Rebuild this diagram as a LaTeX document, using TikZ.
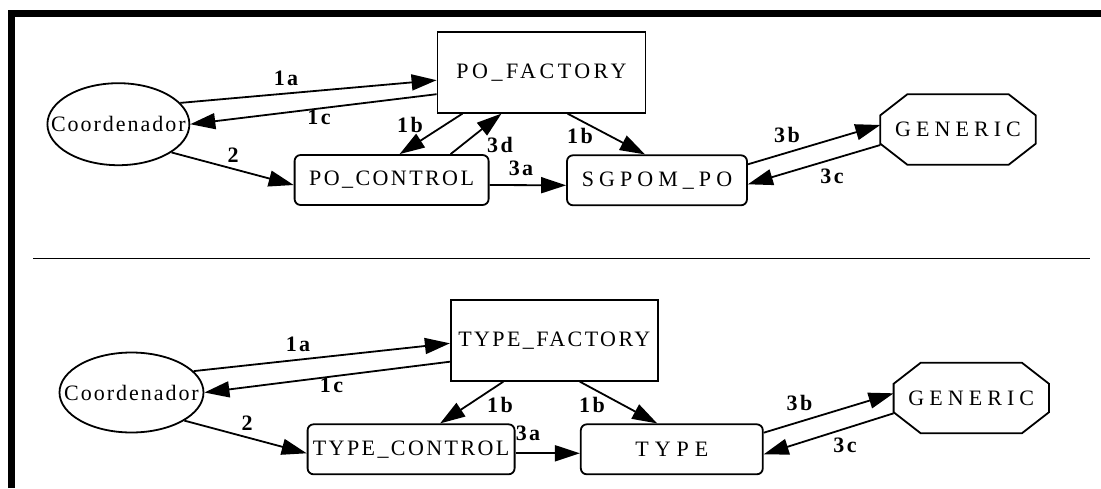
\documentclass[tikz,border=0pt]{standalone}
\usepackage{fontspec}
\setmainfont{Liberation Serif}
\usetikzlibrary{arrows.meta,calc,shapes.geometric}
\def\octagon(#1)(#2:#3){\draw[box] ($(#1.north west)+(#2,0)$) -- ($(#1.north east)+(-#2,0)$) -- ($(#1.north east)+(0,#3)$) -- ($(#1.south east)+(0,-#3)$) -- ($(#1.south east)+(-#2,0)$) -- ($(#1.south west)+(#2,0)$) -- ($(#1.south west)+(0,-#3)$) -- ($(#1.north west)+(0,#3)$) -- cycle;}
\tikzset{
	box/.style={line width=1.8pt},
	sp/.style={font=\fontsize{22}{26}\selectfont\addfontfeature{LetterSpace=#1}},
	sp/.default=11,
	ell/.style={draw, ellipse, box, inner sep=0pt, sp=9},
	sq/.style={draw, rectangle, box, inner sep=0pt},
	rnd/.style={draw, rectangle, rounded corners=6pt, box, inner sep=0pt, minimum height=50pt},
	oct/.style={rectangle, inner sep=0pt, minimum width=155pt, minimum height=70pt, sp=23},
	arr/.style={line width=1.8pt, -{Triangle[length=25pt,width=16pt]}},
	lbl/.style={font=\fontsize{22}{26}\selectfont\bfseries\addfontfeature{LetterSpace=11}, inner sep=0pt}
}

\begin{document}
\begin{tikzpicture}[x=1pt,y=-1pt]
			%%%%% START %%%%%
			\useasboundingbox (0,0) rectangle (1101,488);
			\draw[line width=7pt] (11,488) -- (11,13.5) -- (1101,13.5);
			\draw[line width=1.5pt] (33,258.5) -- (1090,258.5);
			
			%% upper graph
			\node[ell, minimum width=142, minimum height=82] (c1) at (118.4,124.2) {\makebox[0pt]{Coordenador}};
			\node[sq, sp=16, minimum width=208, minimum height=81] (f1) at (541.5,72.2) {PO\_FACTORY};
			\node[rnd, sp, minimum width=194] (p1) at (391.6,180) {PO\_CONTROL};
			\node[rnd, sp=23, minimum width=180] (s1) at (657,180.3) {SGPOM\_PO};
			\node[oct] (g1) at (958,129.5) {GENERIC};
			\octagon(g1)(27:21)
			
			\draw[arr] (c1.19) -- ([yshift=-8pt]f1.west);
			\draw[arr] ([yshift=-22pt]f1.west) -- (c1.east);
			\draw[arr] ([xshift=-79pt]f1.south) -- ([xshift=8pt]p1.north);
			\draw[arr] ([xshift=59pt]p1.north) -- ([xshift=-40pt]f1.south);
			\draw[arr] ([xshift=26pt]f1.south) -- ([xshift=-12pt]s1.north);
			\draw[arr] (c1.-28) -- ([yshift=-5pt]p1.west);
			\draw[arr] ([yshift=-5pt]p1.east) -- ([yshift=-5pt]s1.west);
			\draw[arr] ([yshift=16pt]s1.east) -- ([yshift=4.5pt]g1.west);
			\draw[arr] ([yshift=-15.5pt]g1.west) -- ([yshift=-4pt]s1.east);
			
			\node[lbl] (l1a) at (286,78) {1a};
			\node[lbl] (l1c) at (319,117) {1c};
			\node[lbl] (l1b) at (410,125) {1b};
			\node[lbl] (l3d) at (500,145) {3d};
			\node[lbl] (l2) at (233,155) {2};
			\node[lbl] (l3a) at (521,168) {3a};
			\node[lbl] (l1bb) at (580,136) {1b};
			\node[lbl] (l3b) at (787,135) {3b};
			\node[lbl] (l3c) at (832,176) {3c};
			
			%% lower graph
			\node[ell, minimum width=144, minimum height=80] (c2) at (131.5,392.5) {\makebox[0pt]{Coordenador}};
			\node[sq, sp, minimum width=207, minimum height=81] (f2) at (554.3,340.3) {TYPE\_FACTORY};
			\node[rnd, sp, minimum width=207] (t2) at (411.1,449.3) {TYPE\_CONTROL};
			\node[rnd, sp=27, minimum width=182] (y2) at (671.8,449.3) {TYPE};
			\node[oct] (g2) at (971.3,398) {GENERIC};
			\octagon(g2)(27:21)
			
			\draw[arr] (c2.19) -- ([yshift=-3pt]f2.west);
			\draw[arr] ([yshift=-21.4pt]f2.west) -- (c2.east);
			\draw[arr] ([xshift=-51pt]f2.south) -- ([xshift=29pt]t2.north);
			\draw[arr] ([xshift=25.6pt]f2.south) -- ([xshift=-14.6pt]y2.north);
			\draw[arr] (c2.-28) -- ([yshift=-4pt]t2.west);
			\draw[arr] ([yshift=-4pt]t2.east) -- ([yshift=-4pt]y2.west);
			\draw[arr] ([yshift=16.6pt]y2.east) -- ([yshift=4.7pt]g2.west);
			\draw[arr] ([yshift=-15.3pt]g2.west) -- ([yshift=-5pt]y2.east);
			
			\node[lbl] (m1a) at (298,344) {1a};
			\node[lbl] (m1c) at (331.5,385) {1c};
			\node[lbl] (m1b) at (500,405) {1b};
			\node[lbl] (m2) at (247,423) {2};
			\node[lbl] (m3a) at (528,433) {3a};
			\node[lbl] (m1bb) at (592,405) {1b};
			\node[lbl] (m3b) at (799.5,403) {3b};
			\node[lbl] (m3c) at (845,445) {3c};
			%%%%% END %%%%%
\end{tikzpicture}
\end{document}
